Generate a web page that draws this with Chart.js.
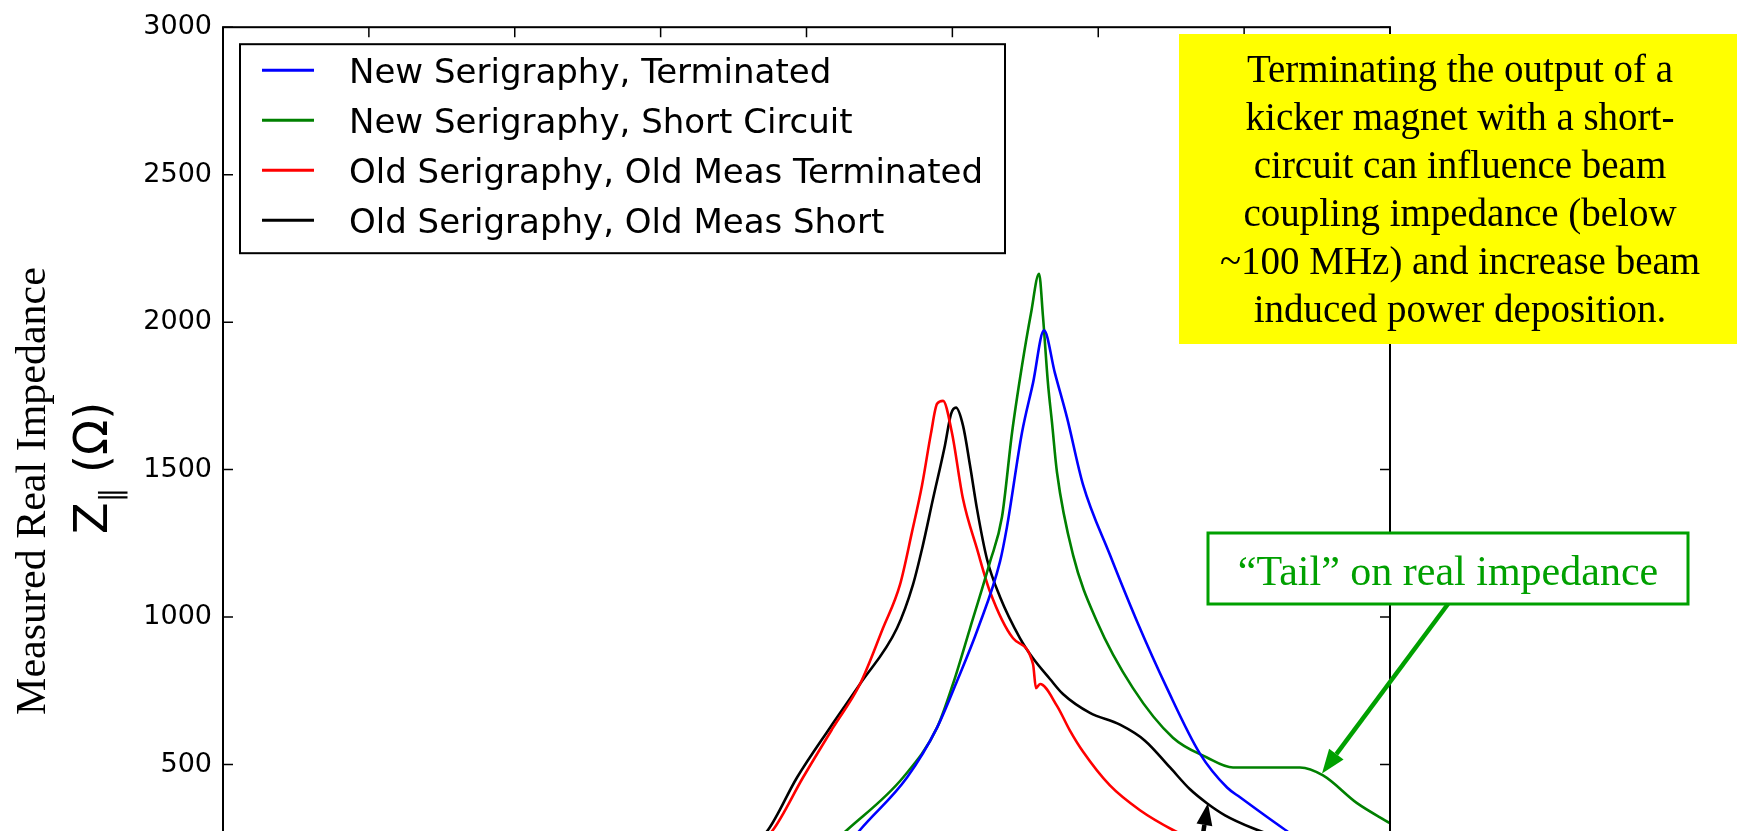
<!DOCTYPE html>
<html>
<head>
<meta charset="utf-8">
<script src="https://cdn.jsdelivr.net/npm/chart.js@4"></script>
<style>
html,body{margin:0;padding:0;background:#fff;overflow:hidden;width:1737px;height:831px}
#wrap{position:relative;width:1737px;height:831px;overflow:hidden;background:#fff}
canvas{display:block}
</style>
</head>
<body>
<div id="wrap"><canvas id="c" width="1737" height="1000"></canvas></div>
<script>
// ---- data (frequency in MHz, real impedance in Ohm) ----
const seriesLabels = [
  'New Serigraphy, Terminated',
  'New Serigraphy, Short Circuit',
  'Old Serigraphy, Old Meas Terminated',
  'Old Serigraphy, Old Meas Short'
];
const seriesColors = ['#0000ff', '#008000', '#ff0000', '#000000'];

const newTermX = [40.93, 43.67, 46.89, 48.95, 50.32, 51.76, 53.26, 53.74, 54.77, 55.53, 56.28, 57.03, 57.86, 58.95, 60.80, 62.66, 64.71, 66.97, 68.83, 69.72, 72.66, 75.89, 80];
const newTermY = [109, 278, 456, 625, 783, 962, 1187, 1305, 1625, 1794, 1972, 1827, 1676, 1450, 1211, 985, 759, 537, 422, 389, 284, 177, 75];

const newShortX = [38.87, 42.78, 46.62, 48.95, 50.04, 51.21, 52.58, 53.40, 54.09, 54.77, 55.39, 55.94, 56.21, 56.55, 56.83, 57.17, 58.27, 59.91, 62.38, 65.12, 67.45, 69.24, 71.77, 73.83, 75.41, 77.74, 80];
const newShortY = [109, 278, 456, 625, 773, 962, 1187, 1339, 1625, 1851, 2030, 2164, 2020, 1794, 1659, 1491, 1211, 985, 759, 591, 524, 490, 490, 490, 463, 369, 301];

const oldTermX = [34.07, 37.70, 39.76, 41.82, 43.67, 45.24, 46.41, 47.23, 47.92, 48.53, 48.95, 49.36, 49.97, 50.73, 51.69, 52.58, 54.16, 55.53, 55.73, 56.01, 57.17, 58.06, 58.95, 60.80, 62.86, 65.12, 68.35, 73.83];
const oldTermY = [109, 278, 456, 625, 773, 962, 1110, 1288, 1447, 1622, 1723, 1733, 1625, 1400, 1231, 1086, 928, 840, 759, 773, 699, 615, 544, 429, 345, 278, 203, 126];

const oldShortX = [33.73, 37.36, 39.35, 41.61, 43.67, 46.20, 47.30, 47.92, 48.67, 49.49, 49.91, 50.25, 50.73, 51.21, 51.69, 52.37, 53.26, 54.64, 55.53, 56.69, 57.58, 59.43, 61.49, 63.20, 64.92, 66.29, 67.45, 68.69, 70.61, 73.83];
const oldShortY = [109, 278, 456, 625, 773, 962, 1110, 1231, 1400, 1582, 1689, 1710, 1649, 1514, 1366, 1197, 1069, 928, 860, 790, 739, 675, 635, 581, 490, 416, 369, 328, 284, 227];

const yMin = 0, yMax = 3000, yStep = 500;
const xMin = 0, xMax = 80, xStep = 10;

const yTitleLine1 = 'Measured Real Impedance';
const noteLines = [
  'Terminating the output of a',
  'kicker magnet with a short-',
  'circuit can influence beam',
  'coupling impedance (below',
  '~100 MHz) and increase beam',
  'induced power deposition.'
];
const tailText = '\u201CTail\u201D on real impedance';
// arrow targets (data coordinates)
const tailArrowTip = {x: 75.34, y: 470};
const blackArrowTip = {x: 67.52, y: 369};

function pts(xs, ys) { return xs.map((x, i) => ({x: x, y: ys[i]})); }
const allX = [newTermX, newShortX, oldTermX, oldShortX];
const allY = [newTermY, newShortY, oldTermY, oldShortY];

const datasets = seriesLabels.map((lab, i) => ({
  label: lab,
  data: pts(allX[i], allY[i]),
  borderColor: seriesColors[i],
  backgroundColor: seriesColors[i],
  borderWidth: 2.6,
  pointRadius: 0,
  cubicInterpolationMode: 'monotone',
  fill: false
}));

function arrow(ctx, x0, y0, x1, y1, color, lw, hl, hw) {
  const ang = Math.atan2(y1 - y0, x1 - x0);
  const bx = x1 - hl * Math.cos(ang), by = y1 - hl * Math.sin(ang);
  ctx.strokeStyle = color; ctx.fillStyle = color; ctx.lineWidth = lw;
  ctx.beginPath(); ctx.moveTo(x0, y0); ctx.lineTo(bx, by); ctx.stroke();
  ctx.beginPath();
  ctx.moveTo(x1, y1);
  ctx.lineTo(bx + hw / 2 * Math.sin(ang), by - hw / 2 * Math.cos(ang));
  ctx.lineTo(bx - hw / 2 * Math.sin(ang), by + hw / 2 * Math.cos(ang));
  ctx.closePath(); ctx.fill();
}

const decor = {
  id: 'decor',
  afterDraw(chart) {
    const ctx = chart.ctx, a = chart.chartArea;
    const xs = chart.scales.x, ys = chart.scales.y;
    ctx.save();
    // inward ticks on all four sides
    ctx.strokeStyle = '#000'; ctx.lineWidth = 1.5;
    ctx.beginPath();
    ys.ticks.forEach(t => {
      const y = ys.getPixelForValue(t.value);
      ctx.moveTo(a.left, y); ctx.lineTo(a.left + 10, y);
      ctx.moveTo(a.right - 10, y); ctx.lineTo(a.right, y);
    });
    xs.ticks.forEach(t => {
      const x = xs.getPixelForValue(t.value);
      ctx.moveTo(x, a.top); ctx.lineTo(x, a.top + 10);
      ctx.moveTo(x, a.bottom - 10); ctx.lineTo(x, a.bottom);
    });
    ctx.stroke();
    // frame
    ctx.lineWidth = 2;
    ctx.strokeRect(a.left, a.top, a.right - a.left, a.bottom - a.top);

    // legend
    const lx = a.left + 17, ly = a.top + 17;
    ctx.fillStyle = '#fff';
    ctx.fillRect(lx, ly, 765, 209);
    ctx.strokeStyle = '#000'; ctx.lineWidth = 2;
    ctx.strokeRect(lx, ly, 765, 209);
    ctx.font = '34px "DejaVu Sans"';
    ctx.textAlign = 'left'; ctx.textBaseline = 'alphabetic';
    chart.data.datasets.forEach((ds, i) => {
      const rowY = ly + 26 + i * 50;
      ctx.strokeStyle = ds.borderColor; ctx.lineWidth = 3;
      ctx.beginPath(); ctx.moveTo(lx + 22, rowY); ctx.lineTo(lx + 74, rowY); ctx.stroke();
      ctx.fillStyle = '#000';
      ctx.fillText(ds.label, lx + 109, rowY + 13);
    });

    // y axis titles
    ctx.fillStyle = '#000';
    ctx.save();
    ctx.translate(45, 491);
    ctx.rotate(-Math.PI / 2);
    ctx.font = '42px "Liberation Serif"';
    ctx.textAlign = 'center';
    ctx.fillText(yTitleLine1, 0, 0);
    ctx.restore();

    ctx.save();
    ctx.translate(107, 468);
    ctx.rotate(-Math.PI / 2);
    ctx.textAlign = 'left';
    const f1 = '46px "DejaVu Sans"', f2 = '30px "DejaVu Sans"';
    ctx.font = f1; const wZ = ctx.measureText('Z').width;
    ctx.font = f2; const wP = ctx.measureText('\u2225').width;
    ctx.font = f1; const wR = ctx.measureText(' (\u03A9)').width;
    let tx = -(wZ + wP + wR) / 2;
    ctx.font = f1; ctx.fillText('Z', tx, 0); tx += wZ;
    ctx.font = f2; ctx.fillText('\u2225', tx, 14); tx += wP;
    ctx.font = f1; ctx.fillText(' (\u03A9)', tx, 0);
    ctx.restore();

    // yellow note box
    ctx.fillStyle = '#ffff00';
    ctx.fillRect(1179, 34, 1737 - 1179, 310);
    ctx.fillStyle = '#000';
    ctx.font = '39px "Liberation Serif"';
    ctx.textAlign = 'center';
    noteLines.forEach((s, i) => ctx.fillText(s, 1460, 82 + i * 48));

    // tail box
    ctx.fillStyle = '#fff';
    ctx.fillRect(1208, 533, 480, 71);
    ctx.strokeStyle = '#00a000'; ctx.lineWidth = 3;
    ctx.strokeRect(1208, 533, 480, 71);
    ctx.fillStyle = '#00a000';
    ctx.font = '42px "Liberation Serif"';
    ctx.fillText(tailText, 1448, 585);

    // arrows
    const gx = xs.getPixelForValue(tailArrowTip.x), gy = ys.getPixelForValue(tailArrowTip.y);
    arrow(ctx, 1448, 604, gx, gy, '#00a000', 4.5, 24, 18);
    const kx = xs.getPixelForValue(blackArrowTip.x), ky = ys.getPixelForValue(blackArrowTip.y);
    arrow(ctx, kx - 11, ky + 68, kx, ky, '#000', 4.5, 22, 16);
    ctx.restore();
  }
};

new Chart(document.getElementById('c'), {
  type: 'line',
  data: {datasets: datasets},
  options: {
    responsive: false,
    animation: false,
    devicePixelRatio: 1,
    layout: {padding: {top: 22, right: 347, left: 0, bottom: 0}},
    plugins: {legend: {display: false}, tooltip: {enabled: false}},
    scales: {
      x: {
        type: 'linear', min: xMin, max: xMax,
        ticks: {stepSize: xStep, color: '#000', font: {family: 'DejaVu Sans', size: 27}, padding: 11, callback: v => String(v)},
        grid: {display: false, drawTicks: false},
        border: {display: false},
        afterFit: s => { s.height = 88; }
      },
      y: {
        type: 'linear', min: yMin, max: yMax,
        ticks: {stepSize: yStep, color: '#000', font: {family: 'DejaVu Sans', size: 27}, padding: 11, callback: v => String(v)},
        grid: {display: false, drawTicks: false},
        border: {display: false},
        afterFit: s => { s.width = 223; }
      }
    }
  },
  plugins: [decor]
});
</script>
</body>
</html>
